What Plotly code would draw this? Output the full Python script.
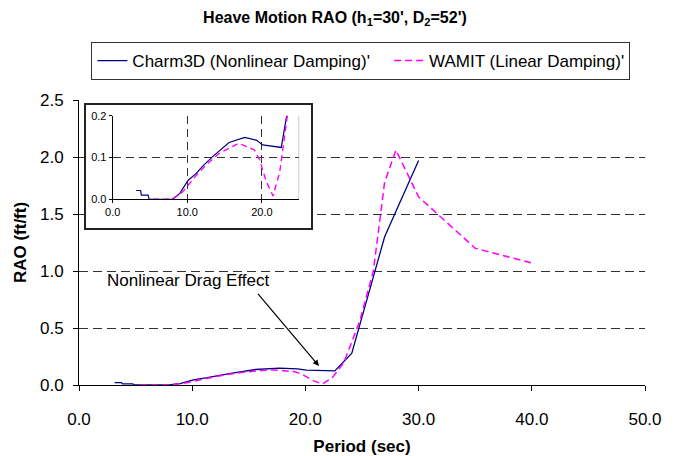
import plotly.graph_objects as go

# Heave RAO curves: period (sec) vs RAO (ft/ft)
charm_period = [3.15, 3.75, 3.85, 4.75, 4.9, 6.0, 8.0, 9.0, 10.1, 11.2, 12.1, 13.4,
                15.6, 17.7, 19.3, 20.1, 22.6, 24.1, 27.0, 30.0]
charm_rao = [0.021, 0.021, 0.010, 0.010, 0.0, 0.0, 0.0, 0.014, 0.045, 0.062, 0.080, 0.102,
             0.136, 0.148, 0.141, 0.130, 0.124, 0.28, 1.30, 1.97]

wamit_period = [5.4, 8.0, 9.4, 11.0, 12.5, 14.3, 16.9, 19.0, 19.7, 20.6, 21.5, 22.4,
                23.4, 24.8, 26.0, 27.0, 28.0, 30.0, 35.0, 40.0]
wamit_rao = [0.0, 0.0, 0.018, 0.053, 0.082, 0.110, 0.134, 0.118, 0.094, 0.042, 0.008, 0.066,
             0.198, 0.56, 1.0, 1.78, 2.06, 1.65, 1.20, 1.07]

x_ticks = [0, 10, 20, 30, 40, 50]
y_ticks = [0, 0.5, 1.0, 1.5, 2.0, 2.5]
x_grid = [10, 20, 30, 40]
inset_x_ticks = [0, 10, 20]
inset_y_ticks = [0, 0.1, 0.2]

FONT = "Liberation Sans, Arial, sans-serif"
NAVY = "#000080"
MAGENTA = "#FF00FF"
GRID = "#333333"
NBSP = "\u00a0"

fig = go.Figure()

# main plot
fig.add_trace(go.Scatter(x=charm_period, y=charm_rao, mode="lines",
                         name="Charm3D (Nonlinear Damping)'" + NBSP * 3,
                         line=dict(color=NAVY, width=1.3)))
fig.add_trace(go.Scatter(x=wamit_period, y=wamit_rao, mode="lines",
                         name="WAMIT (Linear Damping)'",
                         line=dict(color=MAGENTA, width=1.5, dash="7px,4px")))

# empty trace so the framed white box behind the inset exists as a subplot
fig.add_trace(go.Scatter(x=[None], y=[None], mode="lines", showlegend=False,
                         hoverinfo="skip", xaxis="x2", yaxis="y2"))

# zoomed inset
fig.add_trace(go.Scatter(x=charm_period, y=charm_rao, mode="lines", showlegend=False,
                         line=dict(color=NAVY, width=1.2), xaxis="x3", yaxis="y3"))
fig.add_trace(go.Scatter(x=wamit_period, y=wamit_rao, mode="lines", showlegend=False,
                         line=dict(color=MAGENTA, width=1.4, dash="6px,4px"),
                         xaxis="x3", yaxis="y3"))

fig.update_layout(
    width=678, height=456,
    margin=dict(l=79, r=33, t=100, b=71, autoexpand=False),
    paper_bgcolor="white", plot_bgcolor="white",
    font=dict(family=FONT, size=17, color="black"),
    title=dict(text="<b>Heave Motion RAO (h<sub>1</sub>=30', D<sub>2</sub>=52')</b>",
               x=0.494, xanchor="center", y=0.962, yanchor="middle",
               font=dict(size=16)),
    legend=dict(orientation="h", x=0.498, xanchor="center", y=1.2035, yanchor="top",
                bgcolor="white", bordercolor="#333", borderwidth=1,
                font=dict(size=17)),
    showlegend=True,
    xaxis=dict(range=[0, 50], tickvals=x_ticks, tickformat=".1f", showgrid=False,
               zeroline=False, showline=True, linecolor="black", linewidth=1,
               ticks="outside", ticklen=5, tickcolor="black", ticklabelstandoff=14,
               automargin=False,
               title=dict(text="<b>Period (sec)</b>", standoff=18, font=dict(size=17))),
    yaxis=dict(range=[0, 2.5], tickvals=y_ticks, tickformat=".1f", showgrid=True,
               gridcolor=GRID, griddash="9px,5px", gridwidth=1,
               zeroline=False, showline=True, linecolor="black", linewidth=1,
               ticks="outside", ticklen=5, tickcolor="black", ticklabelstandoff=6,
               automargin=False,
               title=dict(text="<b>RAO (ft/ft)</b>", standoff=9, font=dict(size=17))),
    # vertical grid lines of the main plot (no line at the right edge)
    xaxis4=dict(overlaying="x", range=[0, 50], tickvals=x_grid, showgrid=True,
                gridcolor=GRID, griddash="9px,5px", gridwidth=1, automargin=False,
                showticklabels=False, ticks="", zeroline=False, showline=False),
    # white framed box behind the inset
    xaxis2=dict(domain=[0.0118, 0.41], anchor="y2", range=[0, 1], showgrid=False,
                zeroline=False, showticklabels=False, ticks="", showline=True,
                mirror=True, linecolor="#222", linewidth=1.5, automargin=False),
    yaxis2=dict(domain=[0.55, 0.982], anchor="x2", range=[0, 1], showgrid=False,
                zeroline=False, showticklabels=False, ticks="", showline=True,
                mirror=True, linecolor="#222", linewidth=1.5, automargin=False),
    # inset axes
    xaxis3=dict(domain=[0.0595, 0.389], anchor="y3", range=[0, 25],
                tickvals=inset_x_ticks, tickformat=".1f", showgrid=True,
                gridcolor=GRID, griddash="8px,5px", gridwidth=1, zeroline=False,
                showline=True, linecolor="black", linewidth=1, ticks="outside",
                ticklen=3, tickcolor="black", tickfont=dict(size=11), automargin=False),
    yaxis3=dict(domain=[0.6516, 0.945], anchor="x3", range=[0, 0.2],
                tickvals=inset_y_ticks, tickformat=".1f", showgrid=True,
                gridcolor=GRID, griddash="8px,5px", gridwidth=1, zeroline=False,
                showline=True, linecolor="black", linewidth=1, ticks="outside",
                ticklen=3, tickcolor="black", tickfont=dict(size=11), automargin=False),
)

# right edge of the inset plotting area
fig.add_shape(type="line", xref="x3", yref="y3", x0=25, x1=25, y0=0, y1=0.2,
              line=dict(color="#888", width=1), layer="above")

fig.add_annotation(x=9.63, y=0.92, xref="x", yref="y", text="Nonlinear Drag Effect",
                   showarrow=False, font=dict(size=17))
fig.add_annotation(x=21.2, y=0.167, xref="x", yref="y", ax=15.7, ay=0.813,
                   axref="x", ayref="y", text="", showarrow=True, arrowhead=2,
                   arrowsize=1, arrowwidth=1.2, arrowcolor="black")

fig.write_html("out.html")
